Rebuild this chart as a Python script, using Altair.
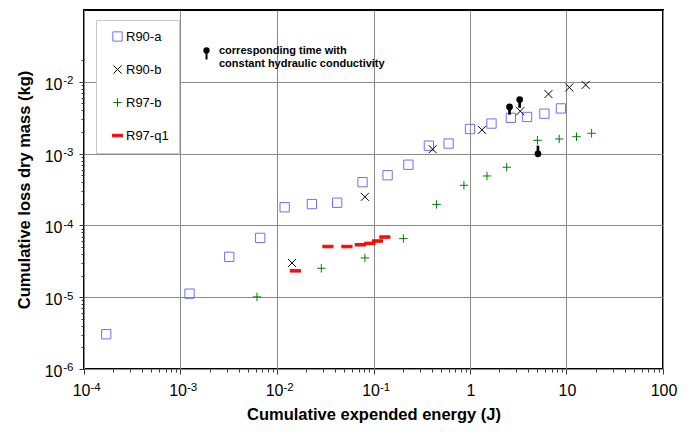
import altair as alt
import pandas as pd

# ---------------- data ----------------
series_names = ["R90-a", "R90-b", "R97-b", "R97-q1"]

r90a_energy = [1.7e-4, 1.24e-3, 3.2e-3, 6.7e-3, 0.012, 0.023, 0.042, 0.077, 0.14,
               0.23, 0.375, 0.6, 1.0, 1.67, 2.65, 3.9, 5.9, 8.75]
r90a_mass = [3.05e-6, 1.12e-5, 3.65e-5, 6.7e-5, 1.79e-4, 1.98e-4, 2.07e-4, 4.0e-4, 5.0e-4,
             7.0e-4, 1.29e-3, 1.38e-3, 2.2e-3, 2.62e-3, 3.15e-3, 3.24e-3, 3.6e-3, 4.26e-3]

r90b_energy = [0.0143, 0.0815, 0.41, 1.33, 3.32, 6.5, 10.7, 15.8]
r90b_mass = [3.0e-5, 2.5e-4, 1.15e-3, 2.14e-3, 3.9e-3, 6.75e-3, 8.35e-3, 9.05e-3]

r97b_energy = [6.2e-3, 0.0288, 0.0815, 0.204, 0.45, 0.865, 1.5, 2.4, 5.0, 8.4, 12.7, 18.2]
r97b_mass = [1.01e-5, 2.53e-5, 3.52e-5, 6.55e-5, 1.96e-4, 3.62e-4, 4.88e-4, 6.46e-4,
             1.53e-3, 1.6e-3, 1.72e-3, 1.92e-3]

r97q1_energy = [0.0155, 0.0337, 0.053, 0.073, 0.0918, 0.110, 0.131]
r97q1_mass = [2.33e-5, 5.08e-5, 5.08e-5, 5.37e-5, 5.62e-5, 6.06e-5, 6.88e-5]

# "corresponding time with constant hydraulic conductivity" pins
pin_energy = [2.57, 3.27, 5.06]
pin_mass = [4.47e-3, 5.67e-3, 9.92e-4]
pin_stem_end = [3.49e-3, 4.35e-3, 1.29e-3]

# tick labels (power-of-ten base + superscript exponent)
x_pow_values = [1e-4, 1e-3, 1e-2, 1e-1]
x_pow_base = ["10", "10", "10", "10"]
x_pow_exp = ["-4", "-3", "-2", "-1"]
x_plain_values = [1.0, 10.0, 100.0]
x_plain_labels = ["1", "10", "100"]
y_pow_values = [1e-6, 1e-5, 1e-4, 1e-3, 1e-2]
y_pow_base = ["10", "10", "10", "10", "10"]
y_pow_exp = ["-6", "-5", "-4", "-3", "-2"]

annotation_lines = ["corresponding time with", "constant hydraulic conductivity"]

# ---------------- tables ----------------
rows = []
for name, xs_, ys_ in [("R90-a", r90a_energy, r90a_mass),
                       ("R90-b", r90b_energy, r90b_mass),
                       ("R97-b", r97b_energy, r97b_mass),
                       ("R97-q1", r97q1_energy, r97q1_mass)]:
    for xv, yv in zip(xs_, ys_):
        rows.append({"series": name, "energy": xv, "mass": yv})
df = pd.DataFrame(rows)
pins = pd.DataFrame({"energy": pin_energy, "mass": pin_mass, "mass2": pin_stem_end})
one = pd.DataFrame({"k": [0]})
xpow_df = pd.DataFrame({"energy": x_pow_values, "base": x_pow_base, "exp": x_pow_exp})
xplain_df = pd.DataFrame({"energy": x_plain_values, "lab": x_plain_labels})
ypow_df = pd.DataFrame({"mass": y_pow_values, "base": y_pow_base, "exp": y_pow_exp})

# ---------------- styling ----------------
FONT = "Liberation Sans"
shape_square = "M-0.93,-0.93H0.93V0.93H-0.93Z"
shape_x = "M-0.8,-0.8L0.8,0.8M-0.8,0.8L0.8,-0.8"
shape_plus = "M-0.85,0H0.85M0,-0.85V0.85"
shape_dash = "M-1.1,-0.25H1.1M-1.1,-0.125H1.1M-1.1,0H1.1M-1.1,0.125H1.1M-1.1,0.25H1.1"
series_colors = ["#6e6eff", "#000000", "#008000", "#ff0000"]

x_ticks = sorted(set([m * 10.0 ** k for k in range(-4, 2) for m in range(1, 10)] + [100.0]))
y_ticks = sorted(set([m * 10.0 ** k for k in range(-6, -2) for m in range(1, 10)] + [1e-2, 2e-2]))

decade = "abs(log(datum.value)/LN10 - round(log(datum.value)/LN10)) < 0.001"

W, H = 579, 359
BASE_FS = 16
EXP_FS = 11.5

x_axis = alt.Axis(
    values=x_ticks, labels=False, grid=True, gridColor="#8c8c8c",
    gridOpacity={"condition": {"test": decade, "value": 1}, "value": 0},
    tickSize={"condition": {"test": decade, "value": 5}, "value": 3},
    tickColor="#333333", domain=False,
    title="Cumulative expended energy (J)", titleFont=FONT,
    titleFontSize=16.5, titleFontWeight="bold", titleColor="black",
    titleX=W / 2, titleY=50, titleBaseline="alphabetic",
)
y_axis = alt.Axis(
    values=y_ticks, labels=False, grid=True, gridColor="#8c8c8c",
    gridOpacity={"condition": {"test": decade, "value": 1}, "value": 0},
    tickSize={"condition": {"test": decade, "value": 5}, "value": 3},
    tickColor="#333333", domain=False,
    title="Cumulative loss dry mass (kg)", titleFont=FONT,
    titleFontSize=16.5, titleFontWeight="bold", titleColor="black",
    titleX=-60, titleY=H / 2, titleAngle=-90, titleBaseline="middle",
)

legend = alt.Legend(
    orient="none", legendX=12, legendY=10, padding=10, fillColor="white",
    strokeColor="#c8c8c8", labelFont=FONT, labelFontSize=13, labelColor="black",
    symbolSize=100, symbolStrokeWidth=1, rowPadding=19, symbolOffset=5,
    labelOffset=2,
    labelExpr="datum.label + '\u00a0\u00a0\u00a0\u00a0\u00a0\u00a0\u00a0\u00a0\u00a0'",
)

xs = alt.Scale(type="log", domain=[1e-4, 100])
ys = alt.Scale(type="log", domain=[1e-6, 2e-2])

points = alt.Chart(df).mark_point(filled=False, size=100, strokeWidth=1, opacity=1).encode(
    x=alt.X("energy:Q", scale=xs, axis=x_axis),
    y=alt.Y("mass:Q", scale=ys, axis=y_axis),
    shape=alt.Shape("series:N", title=None,
                    scale=alt.Scale(domain=series_names,
                                    range=[shape_square, shape_x, shape_plus, shape_dash]),
                    legend=legend),
    color=alt.Color("series:N", title=None,
                    scale=alt.Scale(domain=series_names, range=series_colors),
                    legend=legend),
)

stems = alt.Chart(pins).mark_rule(color="black", strokeWidth=2.7).encode(
    x="energy:Q", y="mass:Q", y2="mass2:Q")
heads = alt.Chart(pins).mark_point(filled=True, shape="circle", size=45, color="black",
                                   opacity=1).encode(x="energy:Q", y="mass:Q")

# tick labels drawn as text marks positioned by the shared scales
xl_base = alt.Chart(xpow_df).mark_text(
    align="right", baseline="alphabetic", font=FONT, fontSize=BASE_FS, color="black", dx=6.5
).encode(x="energy:Q", y=alt.value(H + 27), text="base:N")
xl_exp = alt.Chart(xpow_df).mark_text(
    align="left", baseline="alphabetic", font=FONT, fontSize=EXP_FS, color="black", dx=6.5
).encode(x="energy:Q", y=alt.value(H + 21.5), text="exp:N")
xl_plain = alt.Chart(xplain_df).mark_text(
    align="center", baseline="alphabetic", font=FONT, fontSize=BASE_FS, color="black", dx=1
).encode(x="energy:Q", y=alt.value(H + 27), text="lab:N")
yl_base = alt.Chart(ypow_df).mark_text(
    align="right", baseline="alphabetic", font=FONT, fontSize=BASE_FS, color="black", dy=8
).encode(x=alt.value(-21.5), y="mass:Q", text="base:N")
yl_exp = alt.Chart(ypow_df).mark_text(
    align="left", baseline="alphabetic", font=FONT, fontSize=EXP_FS, color="black", dy=2.3
).encode(x=alt.value(-20.8), y="mass:Q", text="exp:N")

key_stem = alt.Chart(one).mark_rule(color="black", strokeWidth=2).encode(
    x=alt.value(122.5), y=alt.value(40.5), y2=alt.value(49.5))
key_head = alt.Chart(one).mark_point(filled=True, shape="circle", size=40, color="black",
                                     opacity=1).encode(x=alt.value(122.5), y=alt.value(40.5))
key_text = alt.Chart(one).mark_text(
    align="left", baseline="alphabetic", font=FONT, fontSize=11, fontWeight="bold",
    color="black", lineHeight=13.3, text=annotation_lines,
).encode(x=alt.value(135), y=alt.value(44))

chart = alt.layer(points, stems, heads, xl_base, xl_exp, xl_plain, yl_base, yl_exp,
                  key_stem, key_head, key_text).properties(
    width=W, height=H,
    autosize=alt.AutoSizeParams(type="none"),
    padding={"left": 76, "top": 2, "right": 25, "bottom": 58},
    background="white",
).configure_view(stroke="black", strokeWidth=2)

chart.save("out.html", embed_options={"renderer": "svg", "actions": False})
